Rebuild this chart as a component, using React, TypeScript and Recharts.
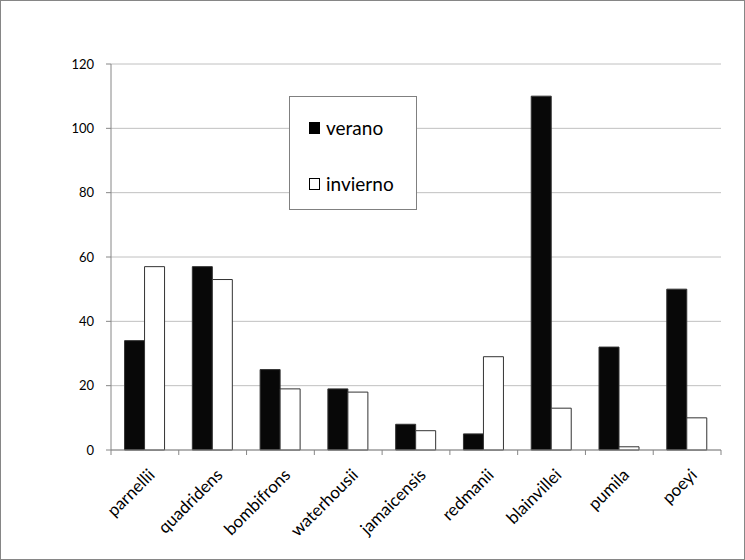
import React from 'react';
import { BarChart, Bar, XAxis, YAxis, CartesianGrid } from 'recharts';

const species = ['parnellii', 'quadridens', 'bombifrons', 'waterhousii', 'jamaicensis', 'redmanii', 'blainvillei', 'pumila', 'poeyi'];
const verano = [34, 57, 25, 19, 8, 5, 110, 32, 50];
const invierno = [57, 53, 19, 18, 6, 29, 13, 1, 10];
const yTicks = [0, 20, 40, 60, 80, 100, 120];

const data = species.map((name, i) => ({ name, verano: verano[i], invierno: invierno[i] }));

const FONT = 'Lato, "Open Sans", sans-serif';

const XTick = (props: any) => {
  const { x, y, payload, index } = props;
  const half = payload && payload.offset ? payload.offset : 34;
  const last = index === species.length - 1;
  const ax = y - 8;
  return (
    <g>
      <line x1={x - half} y1={ax} x2={x - half} y2={ax + 5} stroke='#868686' />
      {last && <line x1={x + half} y1={ax} x2={x + half} y2={ax + 5} stroke='#868686' />}
      <text
        x={x + 11}
        y={ax + 26}
        textAnchor='end'
        fontSize={17}
        fontFamily={FONT}
        fill='#000'
        transform={`rotate(-45, ${x + 11}, ${ax + 26})`}>
        {payload.value}
      </text>
    </g>
  );
};

const LegendBox = () => (
  <div
    style={{
      position: 'absolute',
      left: 288,
      top: 95,
      width: 128,
      height: 114,
      border: '1px solid #808080',
      background: '#fff',
      boxSizing: 'border-box',
      fontFamily: FONT,
      fontSize: 19,
      color: '#000',
      lineHeight: '20px',
    }}>
    <div style={{ position: 'absolute', left: 19, top: 21, display: 'flex', alignItems: 'center' }}>
      <span style={{ display: 'inline-block', width: 11, height: 12, background: '#000', marginRight: 6 }} />
      verano
    </div>
    <div style={{ position: 'absolute', left: 19, top: 77, display: 'flex', alignItems: 'center' }}>
      <span style={{ display: 'inline-block', width: 9, height: 10, border: '1px solid #000', background: '#fff', marginRight: 6 }} />
      invierno
    </div>
  </div>
);

const App: React.FC = () => {
  return (
    <div
      style={{
        position: 'absolute',
        left: 0,
        top: 0,
        width: 745,
        height: 560,
        background: '#fff',
        border: '1px solid #868686',
        boxSizing: 'border-box',
      }}>
      <div style={{ position: 'absolute', left: -1, top: -1 }}>
        <BarChart
          width={745}
          height={560}
          data={data}
          margin={{ top: 64, right: 24, bottom: 0, left: 0 }}
          barCategoryGap='20%'
          barGap={0}>
          <CartesianGrid vertical={false} stroke='#c0c0c0' />
          <XAxis
            dataKey='name'
            height={110}
            axisLine={{ stroke: '#868686' }}
            tickLine={false}
            interval={0}
            tick={<XTick />}
          />
          <YAxis
            domain={[0, 120]}
            ticks={yTicks}
            width={111}
            axisLine={{ stroke: '#868686' }}
            tickLine={{ stroke: '#868686' }}
            tickSize={5}
            tickMargin={12}
            tick={{ fontSize: 13, fontFamily: FONT, fill: '#000' }}
          />
          <YAxis
            yAxisId='r'
            orientation='right'
            width={0}
            domain={[0, 120]}
            tick={false}
            tickLine={false}
            axisLine={{ stroke: '#c0c0c0' }}
          />
          <Bar dataKey='verano' fill='#080808' stroke='#333' strokeWidth={1} isAnimationActive={false} />
          <Bar dataKey='invierno' fill='#fff' stroke='#333' strokeWidth={1} isAnimationActive={false} />
        </BarChart>
      </div>
      <LegendBox />
    </div>
  );
};

export default App;
